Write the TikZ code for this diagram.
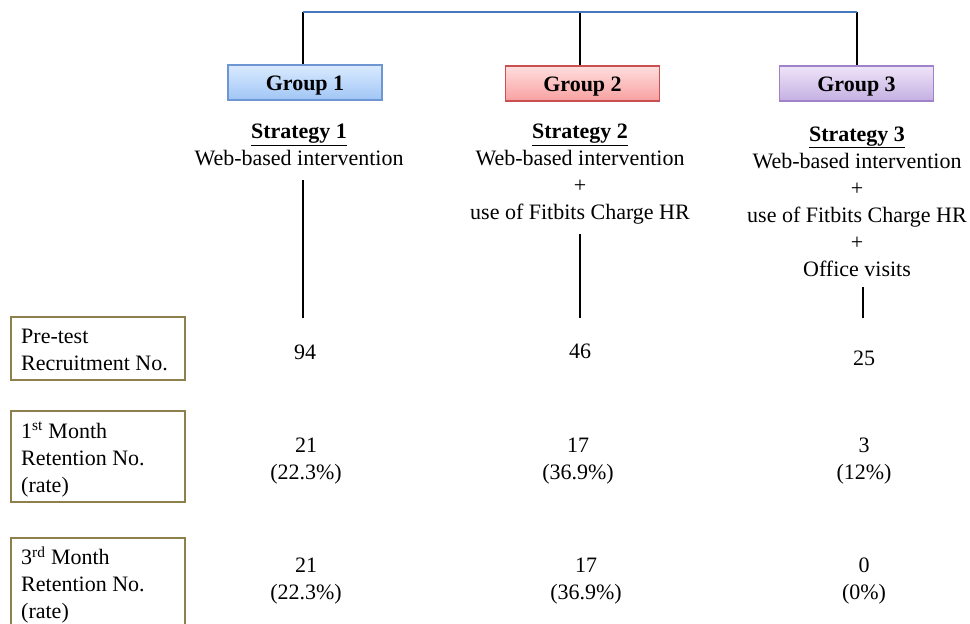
\documentclass[tikz,border=0pt]{standalone}
\usepackage{fontspec}
\setmainfont{Liberation Serif}
\definecolor{topblue}{RGB}{70,120,190}
\definecolor{boxline}{RGB}{142,128,76}
\definecolor{gAtop}{RGB}{218,234,255}
\definecolor{gAbot}{RGB}{160,198,245}
\definecolor{gAline}{RGB}{110,150,210}
\definecolor{gBtop}{RGB}{255,222,222}
\definecolor{gBbot}{RGB}{248,160,160}
\definecolor{gBline}{RGB}{200,80,80}
\definecolor{gCtop}{RGB}{238,228,248}
\definecolor{gCbot}{RGB}{196,176,226}
\definecolor{gCline}{RGB}{160,130,200}
\newcommand{\grptext}[1]{\raisebox{-8pt}[0pt][0pt]{#1}}
\begin{document}
\begin{tikzpicture}[x=1pt,y=-1pt,
  txt/.style={font=\fontsize{22}{27}\selectfont, inner sep=0pt, align=center},
  ltxt/.style={font=\fontsize{22}{27}\selectfont, inner sep=0pt, align=left, anchor=west},
  grp/.style={line width=1.2pt, minimum width=154pt, minimum height=35pt, inner sep=0pt,
    font=\fontsize{22}{27}\selectfont\bfseries},
  lbl/.style={draw=boxline, line width=2pt, minimum width=174pt, inner sep=0pt, anchor=north west},
  conn/.style={line width=2pt, black}]
\clip (0,0) rectangle (970,624);

% group boxes
\node[grp, draw=gAline, top color=gAtop, bottom color=gAbot] (g1) at (305,82.5) {\grptext{Group 1}};
\node[grp, draw=gBline, top color=gBtop, bottom color=gBbot] (g2) at (582.5,83.5) {\grptext{Group 2}};
\node[grp, draw=gCline, top color=gCtop, bottom color=gCbot] (g3) at (856.5,83.5) {\grptext{Group 3}};

% top connectors
\coordinate (t1) at (303,12);
\coordinate (t2) at (580,12);
\coordinate (t3) at (857,12);
\draw[conn] (t1) -- (t1 |- g1.north);
\draw[conn] (t2) -- (t2 |- g2.north);
\draw[conn] (t3) -- (t3 |- g3.north);
\draw[line width=2pt, topblue] (t1) -- (t3);

% strategies
\node[txt] (s1) at (299,145) {\textbf{\underline{Strategy 1}}\\Web-based intervention};
\node[txt] (s2) at (580,174.5) {\textbf{\underline{Strategy 2}}\\Web-based intervention\\+\\use of Fitbits Charge HR};
\node[txt] (s3) at (857,201.5) {\textbf{\underline{Strategy 3}}\\Web-based intervention\\+\\use of Fitbits Charge HR\\+\\Office visits};

% lines under strategies
\coordinate (a1) at (303,180);
\coordinate (b1) at (303,318);
\coordinate (a2) at (580,234);
\coordinate (b2) at (580,318);
\coordinate (a3) at (863,287);
\coordinate (b3) at (863,318);
\draw[conn] (a1) -- (b1);
\draw[conn] (a2) -- (b2);
\draw[conn] (a3) -- (b3);

% row labels
\node[lbl, minimum height=63pt] (l1) at (10,316) {};
\node[lbl, minimum height=91pt] (l2) at (10,410) {};
\node[lbl, minimum height=91pt] (l3) at (10,537) {};
\node[ltxt] (l1t) at ([xshift=11pt,yshift=-1pt]l1.west) {Pre-test\\Recruitment No.};
\node[ltxt] (l2t) at ([xshift=11pt,yshift=-3pt]l2.west) {1\textsuperscript{st} Month\\Retention No.\\(rate)};
\node[ltxt] (l3t) at ([xshift=11pt,yshift=-1.5pt]l3.west) {3\textsuperscript{rd} Month\\Retention No.\\(rate)};

% values
\node[txt] (v11) at (305,352) {94};
\node[txt] (v12) at (580,351) {46};
\node[txt] (v13) at (864,358) {25};

\node[txt] (v21) at (306,461) {21\\(22.3\%)};
\node[txt] (v22) at (578,461) {17\\(36.9\%)};
\node[txt] (v23) at (864,461) {3\\(12\%)};

\node[txt] (v31) at (306,581.5) {21\\(22.3\%)};
\node[txt] (v32) at (586,581.5) {17\\(36.9\%)};
\node[txt] (v33) at (864,581.5) {0\\(0\%)};
\end{tikzpicture}
\end{document}
